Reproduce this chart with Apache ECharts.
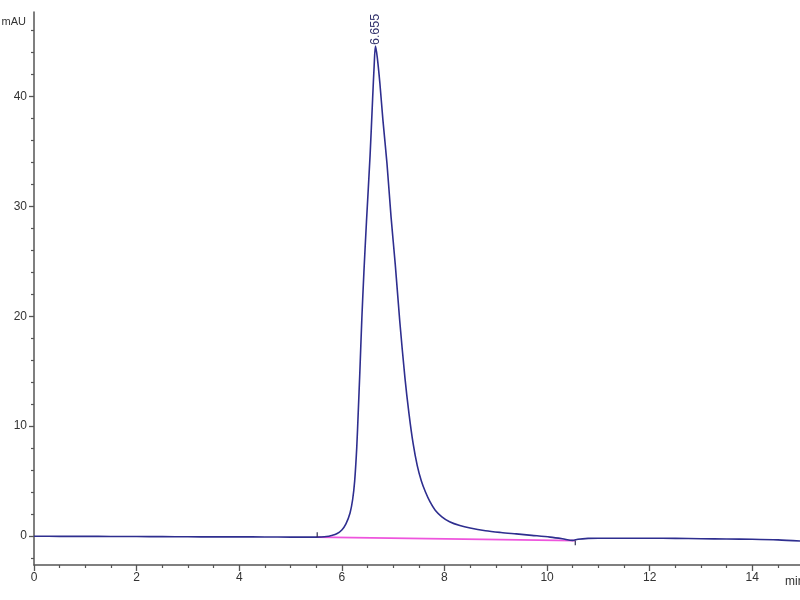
<!DOCTYPE html>
<html>
<head>
<meta charset="utf-8">
<script src="https://cdn.jsdelivr.net/npm/echarts@6/dist/echarts.min.js"></script>
<style>html,body{margin:0;padding:0;background:#fff}#c{width:800px;height:600px}</style>
</head>
<body>
<div id="c"></div>
<script>
// Chromatogram signal (time in min, absorbance in mAU)
var times = [0, 0.5, 1, 1.5, 2, 2.5, 3, 3.5, 4, 4.5, 5, 5.3, 5.5, 5.6, 5.7, 5.8, 5.9, 6.0, 6.08, 6.16, 6.21, 6.25, 6.29, 6.32, 6.35, 6.39, 6.43, 6.48, 6.55, 6.6, 6.63, 6.655, 6.69, 6.74, 6.8, 6.88, 6.96, 7.04, 7.13, 7.23, 7.31, 7.39, 7.47, 7.55, 7.63, 7.72, 7.82, 7.95, 8.1, 8.3, 8.5, 8.8, 9.1, 9.4, 9.7, 10.06, 10.3, 10.5, 10.6, 10.8, 11.0, 11.5, 12, 12.5, 13, 13.5, 14, 14.5, 14.93];
var signal = [-0.02, -0.03, -0.03, -0.04, -0.05, -0.06, -0.07, -0.08, -0.08, -0.09, -0.1, -0.1, -0.1, -0.09, -0.05, 0.05, 0.2, 0.55, 1.1, 2.1, 3.3, 5.0, 8.0, 11.3, 14.8, 19.8, 24.0, 28.6, 34.6, 39.8, 42.8, 44.6, 43.6, 41.3, 37.9, 33.9, 29.0, 24.8, 19.5, 14.4, 11.1, 8.4, 6.4, 5.0, 4.0, 3.1, 2.35, 1.75, 1.3, 0.95, 0.72, 0.48, 0.32, 0.19, 0.06, -0.1, -0.25, -0.4, -0.3, -0.22, -0.2, -0.2, -0.2, -0.22, -0.25, -0.28, -0.3, -0.35, -0.45];
// Integration baseline
var baseTimes = [5.5, 10.55];
var baseValues = [-0.1, -0.42];
// Integration event marks
var eventTimes = [5.52, 10.55];
var eventFrom = [-0.1, -0.42];
var eventTo = [0.35, -0.85];
// Peak annotation
var peakTime = 6.655;
var peakValue = 44.6;
var peakLabel = '6.655';
// Axis ticks
var xMajorTicks = [0, 2, 4, 6, 8, 10, 12, 14];
var xMinorTicks = [0.5, 1, 1.5, 2.5, 3, 3.5, 4.5, 5, 5.5, 6.5, 7, 7.5, 8.5, 9, 9.5, 10.5, 11, 11.5, 12.5, 13, 13.5, 14.5];
var yMajorTicks = [0, 10, 20, 30, 40];
var yMinorTicks = [-2, 2, 4, 6, 8, 12, 14, 16, 18, 22, 24, 26, 28, 32, 34, 36, 38, 42, 44, 46];
var xName = 'min';
var yName = 'mAU';

var XMIN = 0, XMAX = 14.93, YMIN = -2.64, YMAX = 47.7;
var axisColor = '#555';
var FONT = 'Liberation Sans, Arial, sans-serif';
var labelStyle = {color: '#333', fontSize: 12, fontFamily: FONT};

var series = [
  {type: 'line', name: 'baseline', data: baseTimes.map(function (t, i) { return [t, baseValues[i]]; }), showSymbol: false, lineStyle: {color: '#ee55dd', width: 1.6}, z: 2, silent: true, animation: false},
  {type: 'line', name: 'signal', data: times.map(function (t, i) { return [t, signal[i]]; }), showSymbol: false, smooth: 0.3, lineStyle: {color: '#2e2e8f', width: 1.6}, z: 3, animation: false,
    markPoint: {symbol: 'circle', symbolSize: 0, silent: true, animation: false,
      data: [{coord: [peakTime, peakValue], value: peakLabel}],
      label: {show: true, formatter: peakLabel, rotate: 90, position: 'top', distance: 0, align: 'left', verticalAlign: 'middle', color: '#30306a', fontSize: 12.5, fontFamily: FONT, offset: [1, 0]}}}
];
eventTimes.forEach(function (t, i) {
  series.push({type: 'line', data: [[t, eventFrom[i]], [t, eventTo[i]]], showSymbol: false, lineStyle: {color: '#333355', width: 1.2}, z: 4, animation: false, silent: true});
});

var chart = echarts.init(document.getElementById('c'));
chart.setOption({
  backgroundColor: '#fff',
  animation: false,
  grid: {left: 34, right: 0, top: 12, bottom: 35, containLabel: false, outerBoundsMode: 'none'},
  xAxis: [
    {type: 'value', min: XMIN, max: XMAX, splitLine: {show: false},
      name: xName, nameLocation: 'end', nameGap: -15,
      nameTextStyle: {color: '#333', fontSize: 12, fontFamily: FONT, align: 'left', verticalAlign: 'top', padding: [11, 0, 0, 0]},
      axisLine: {show: true, onZero: false, lineStyle: {color: axisColor, width: 1.5}},
      axisTick: {show: true, customValues: xMajorTicks, length: 6, lineStyle: {color: axisColor, width: 1.3}},
      axisLabel: Object.assign({customValues: xMajorTicks, margin: 7}, labelStyle)},
    {type: 'value', min: XMIN, max: XMAX, position: 'bottom', offset: 0, splitLine: {show: false},
      axisLine: {show: false, onZero: false},
      axisTick: {show: true, customValues: xMinorTicks, length: 3, lineStyle: {color: axisColor, width: 1.2}},
      axisLabel: {show: false}}
  ],
  yAxis: [
    {type: 'value', min: YMIN, max: YMAX, splitLine: {show: false},
      name: yName, nameLocation: 'end', nameGap: -10,
      nameTextStyle: {color: '#333', fontSize: 11, fontFamily: FONT, align: 'right', verticalAlign: 'middle', padding: [0, 8, 0, 0]},
      axisLine: {show: true, onZero: false, lineStyle: {color: axisColor, width: 1.5}},
      axisTick: {show: true, customValues: yMajorTicks, length: 5, lineStyle: {color: axisColor, width: 1.3}},
      axisLabel: Object.assign({customValues: yMajorTicks, margin: 7}, labelStyle)},
    {type: 'value', min: YMIN, max: YMAX, position: 'left', offset: 0, splitLine: {show: false},
      axisLine: {show: false, onZero: false},
      axisTick: {show: true, customValues: yMinorTicks, length: 3, lineStyle: {color: axisColor, width: 1.2}},
      axisLabel: {show: false}}
  ],
  series: series
});
</script>
</body>
</html>
